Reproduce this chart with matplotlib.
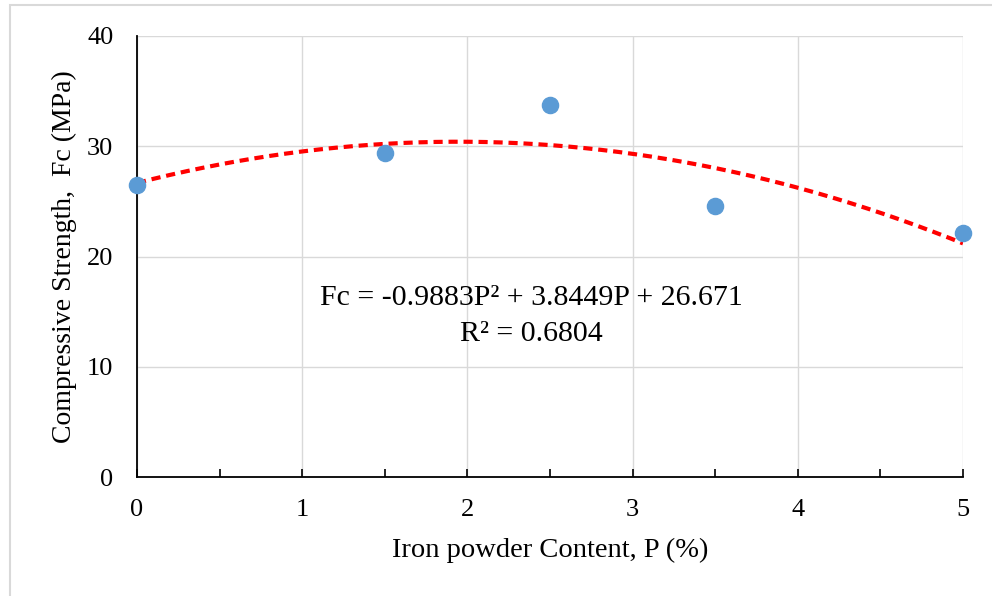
import numpy as np
import matplotlib
matplotlib.use('Agg')
import matplotlib.pyplot as plt
from matplotlib.patches import Rectangle

# iron powder content (%) vs compressive strength (MPa)
content = [0, 1.5, 2.5, 3.5, 5]
strength = [26.5, 29.4, 33.7, 24.6, 22.1]

# quadratic trendline coefficients
coef_a = -0.9883
coef_b = 3.8449
coef_c = 26.671
r_squared = 0.6804

plt.rcParams['font.family'] = ['Liberation Serif', 'DejaVu Serif']

fig = plt.figure(figsize=(9.92, 5.96), dpi=100)
ax = fig.add_axes([137 / 992, 1 - 477 / 596, 826 / 992, 441 / 596])

# chart area border
fig.patches.append(Rectangle((10 / 992, -0.1), 1.1, 1 - 5 / 596 + 0.1,
                             transform=fig.transFigure, fill=False,
                             edgecolor='#d9d9d9', linewidth=1.5))

px = np.linspace(0, 5, 200)
fit = coef_a * px ** 2 + coef_b * px + coef_c
ax.plot(px, fit, color='#ff0000', linestyle=(0, (2.2, 1.4)), linewidth=3, zorder=2)
ax.scatter(content, strength, s=135, color='#5b9bd5', zorder=3, clip_on=False)

ax.set_xlim(0, 5)
ax.set_ylim(0, 40)
ax.set_xticks(range(0, 6))
ax.set_xticks(np.arange(0.5, 5, 1), minor=True)
ax.set_yticks(range(0, 41, 10))
ax.grid(True, color='#d9d9d9', linewidth=1)
ax.set_axisbelow(True)

for s in ['top', 'right']:
    ax.spines[s].set_visible(False)
for s in ['left', 'bottom']:
    ax.spines[s].set_color('black')
    ax.spines[s].set_linewidth(1.3)

ax.tick_params(axis='x', which='both', direction='in', length=6, width=1.2,
               labelsize=19, pad=16, color='black')
ax.tick_params(axis='y', length=0, labelsize=19, pad=17)

ax.set_xlabel('Iron powder Content, P (%)', fontsize=20.5, labelpad=12)
ax.set_ylabel('Compressive Strength,  Fc (MPa)', fontsize=20, labelpad=7)

ax.text(2.39, 16.2, 'Fc = %.4fP² + %.4fP + %.3f' % (coef_a, coef_b, coef_c),
        ha='center', va='center', fontsize=21.5)
ax.text(2.39, 13.0, 'R² = %.4f' % r_squared, ha='center', va='center', fontsize=21.5)

fig.savefig('out.png', dpi=100)
